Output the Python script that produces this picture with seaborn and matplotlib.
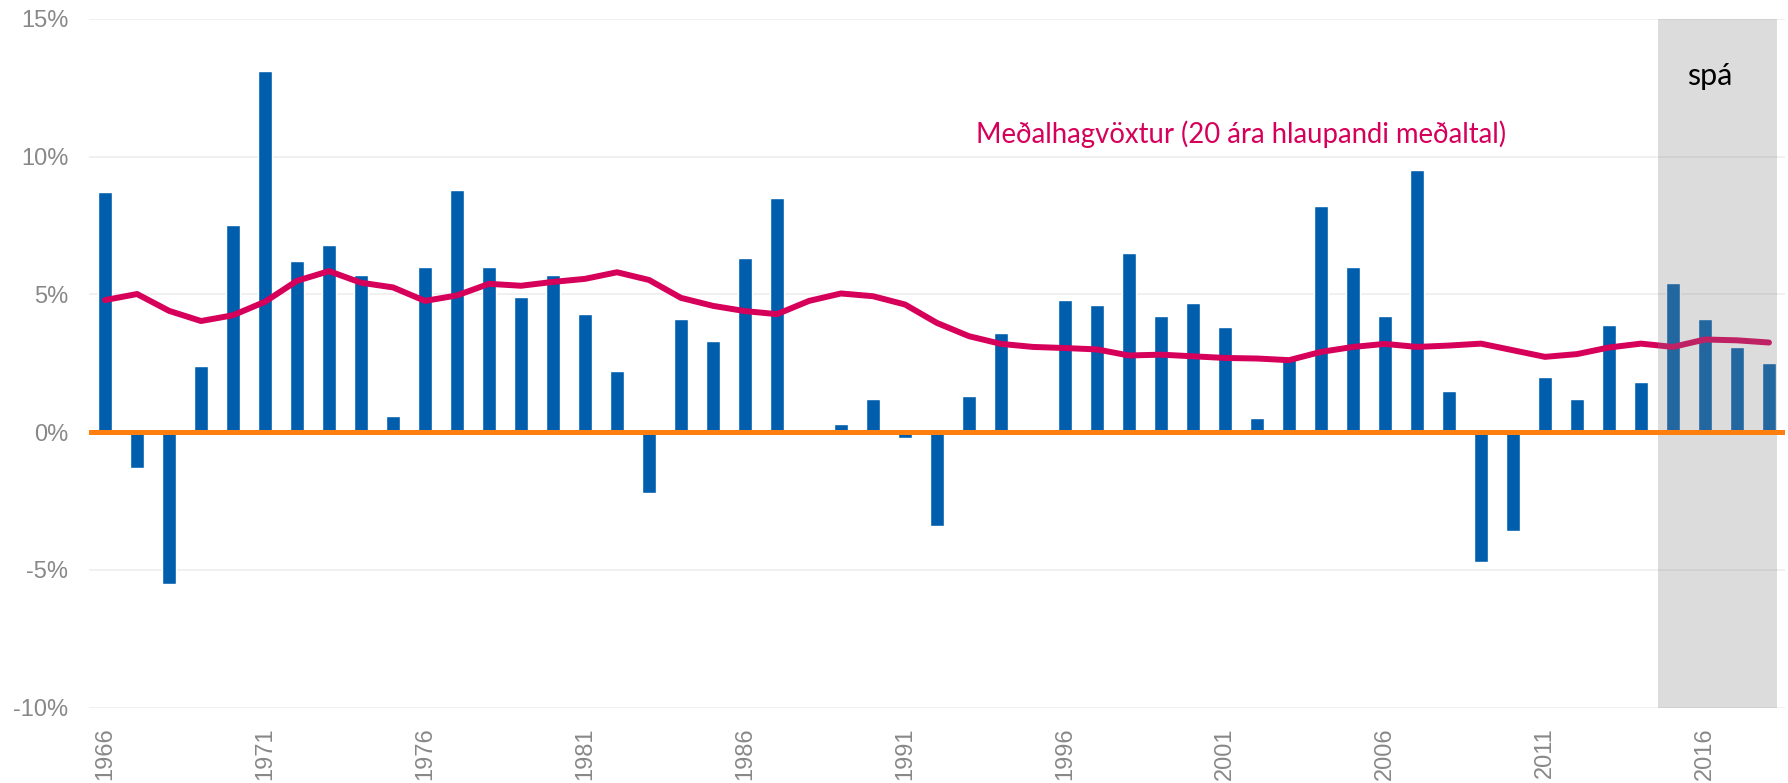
import matplotlib
matplotlib.use("Agg")
import matplotlib.pyplot as plt
import numpy as np
import pandas as pd
import seaborn as sns

# hagvöxtur á ári (%) og 20 ára hlaupandi meðaltal
years = list(range(1966, 2019))
growth = [8.7, -1.3, -5.5, 2.4, 7.5, 13.1, 6.2, 6.8, 5.7, 0.6,
          6.0, 8.8, 6.0, 4.9, 5.7, 4.3, 2.2, -2.2, 4.1, 3.3,
          6.3, 8.5, -0.1, 0.3, 1.2, -0.2, -3.4, 1.3, 3.6, 0.1,
          4.8, 4.6, 6.5, 4.2, 4.7, 3.8, 0.5, 2.7, 8.2, 6.0,
          4.2, 9.5, 1.5, -4.7, -3.6, 2.0, 1.2, 3.9, 1.8, 5.4,
          4.1, 3.1, 2.5]
avg20 = [4.79, 5.01, 4.40, 4.03, 4.24, 4.73, 5.49, 5.84, 5.42, 5.25,
         4.76, 4.96, 5.38, 5.31, 5.45, 5.56, 5.80, 5.52, 4.87, 4.58,
         4.39, 4.28, 4.76, 5.03, 4.93, 4.63, 3.96, 3.48, 3.20, 3.09,
         3.05, 3.00, 2.78, 2.81, 2.75, 2.69, 2.67, 2.61, 2.91, 3.09,
         3.20, 3.09, 3.14, 3.21, 2.97, 2.73, 2.83, 3.07, 3.21, 3.09,
         3.36, 3.33, 3.25]
forecast_start = 2015
line_label = "Meðalhagvöxtur (20 ára hlaupandi meðaltal)"

df = pd.DataFrame({"year": [str(y) for y in years], "growth": growth, "avg": avg20})

sns.set_style("white")
plt.rcParams["font.family"] = ["Liberation Sans", "DejaVu Sans"]

fig = plt.figure(figsize=(17.88, 7.83), dpi=100)
ax = fig.add_axes([0.0498, 0.0962, 0.9485, 0.8799])

blue = "#005EAD"
pink = "#D6005A"
orange = "#FF7F0E"

sns.barplot(data=df, x="year", y="growth", color=blue, width=0.44,
            saturation=1, ax=ax, zorder=2)
sns.lineplot(data=df, x="year", y="avg", color=pink, linewidth=4.3,
             sort=False, ax=ax, zorder=3)

n = len(years)
fi = years.index(forecast_start)
ax.axvspan(fi - 0.47, n - 0.75, color=(0.5, 0.5, 0.5), alpha=0.27,
           lw=0, zorder=4)
ax.axhline(0, color=orange, linewidth=3.6, zorder=5)

ax.set_xlim(-0.5, n - 0.5)
ax.set_ylim(-10, 15)
ax.set_yticks([-10, -5, 0, 5, 10, 15])
ax.set_yticklabels([f"{v}%" for v in [-10, -5, 0, 5, 10, 15]])
ticks = list(range(0, n, 5))
ax.set_xticks(ticks)
ax.set_xticklabels([str(years[i]) for i in ticks], rotation=90)
ax.tick_params(axis="both", length=0, labelsize=17, colors="#888888")
ax.tick_params(axis="y", pad=15)
ax.tick_params(axis="x", pad=14)
ax.grid(axis="y", color="#EEEEEE", linewidth=1.2, zorder=0)
ax.set_axisbelow(True)
ax.set_xlabel("")
ax.set_ylabel("")
for s in ax.spines.values():
    s.set_visible(False)

ax.text(0.523, 0.819, line_label, transform=ax.transAxes, color=pink,
        fontsize=19.8, family=["Lato", "DejaVu Sans"], va="baseline", ha="left")
ax.text(50.14, 12.6, "spá", color="black",
        fontsize=22, family=["Lato", "DejaVu Sans"], va="baseline", ha="center",
        zorder=6)

fig.savefig("out.png", dpi=100)
